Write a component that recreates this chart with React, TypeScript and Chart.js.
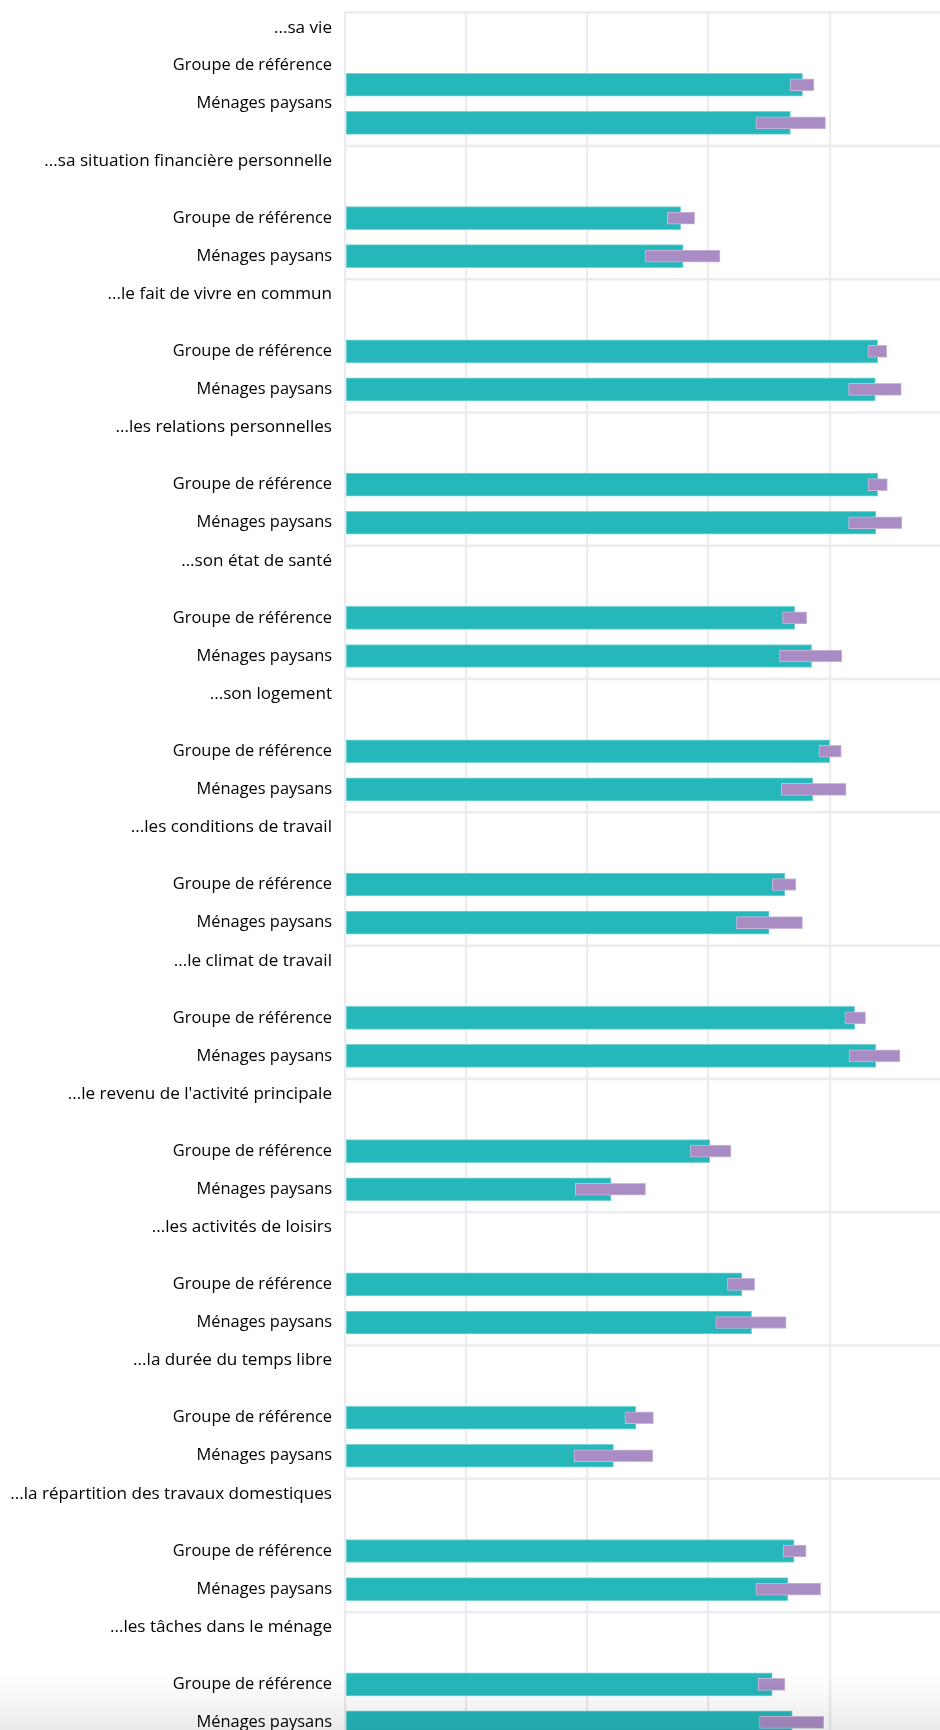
import React, { useEffect, useRef } from "react";
import { Chart, registerables } from "chart.js";

Chart.register(...registerables);

const groups = [
  "...sa vie",
  "...sa situation financière personnelle",
  "...le fait de vivre en commun",
  "...les relations personnelles",
  "...son état de santé",
  "...son logement",
  "...les conditions de travail",
  "...le climat de travail",
  "...le revenu de l'activité principale",
  "...les activités de loisirs",
  "...la durée du temps libre",
  "...la répartition des travaux domestiques",
  "...les tâches dans le ménage",
];

const seriesLabels = ["Groupe de référence", "Ménages paysans"];

const refMean = [7.55, 5.54, 8.79, 8.79, 7.42, 8.0, 7.26, 8.41, 6.02, 6.55, 4.8, 7.41, 7.05];
const refLow = [7.35, 5.32, 8.63, 8.63, 7.22, 7.82, 7.05, 8.25, 5.7, 6.31, 4.62, 7.23, 6.82];
const refHigh = [7.74, 5.77, 8.94, 8.95, 7.62, 8.19, 7.44, 8.59, 6.37, 6.76, 5.09, 7.61, 7.26];

const paysMean = [7.35, 5.58, 8.75, 8.76, 7.7, 7.72, 7.0, 8.76, 4.39, 6.71, 4.43, 7.31, 7.38];
const paysLow = [6.78, 4.95, 8.31, 8.31, 7.17, 7.2, 6.46, 8.32, 3.8, 6.12, 3.78, 6.78, 6.84];
const paysHigh = [7.93, 6.19, 9.18, 9.19, 8.2, 8.27, 7.55, 9.16, 4.96, 7.28, 5.08, 7.85, 7.9];

const xTicks = [0, 2, 4, 6, 8, 10];

const ROWS_PER_GROUP = 7;

export default function App() {
  const canvasRef = useRef<HTMLCanvasElement | null>(null);

  useEffect(() => {
    if (!canvasRef.current) return;

    const rowLabels: string[] = [];
    const totalRows = groups.length * ROWS_PER_GROUP;
    for (let i = 0; i < totalRows; i++) rowLabels.push("");
    groups.forEach((name, g) => {
      const base = g * ROWS_PER_GROUP;
      const shift = g === 0 ? -1 : 0;
      rowLabels[base] = name;
      rowLabels[base + 3 + shift] = seriesLabels[0];
      rowLabels[base + 5 + shift] = seriesLabels[1];
    });

    const meanData: { x: number; y: number }[] = [];
    const ciData: { x: number[]; y: number }[] = [];
    groups.forEach((_, g) => {
      const base = g * ROWS_PER_GROUP;
      meanData.push({ x: refMean[g], y: base + 3 });
      meanData.push({ x: paysMean[g], y: base + 5 });
      ciData.push({ x: [refLow[g], refHigh[g]], y: base + 3 });
      ciData.push({ x: [paysLow[g], paysHigh[g]], y: base + 5 });
    });

    const separatorPlugin = {
      id: "separators",
      beforeDatasetsDraw(chart: any) {
        const { ctx, chartArea, scales } = chart;
        const y = scales.y;
        ctx.save();
        ctx.strokeStyle = "#ececec";
        ctx.lineWidth = 2.5;
        groups.forEach((_, g) => {
          const py = y.getPixelForValue(g * ROWS_PER_GROUP - 0.79);
          ctx.beginPath();
          ctx.moveTo(chartArea.left, py);
          ctx.lineTo(chartArea.right, py);
          ctx.stroke();
        });
        ctx.restore();
      },
    };

    const chart = new Chart(canvasRef.current, {
      type: "bar",
      data: {
        datasets: [
          {
            label: "Intervalle",
            data: ciData as any,
            backgroundColor: "#a88cc3",
            borderColor: "#c9b8dc",
            borderWidth: 1,
            borderSkipped: false,
            barThickness: 12,
            grouped: false,
            order: 0,
          },
          {
            label: "Moyenne",
            data: meanData as any,
            backgroundColor: "#26b7bb",
            borderColor: "#7ad3d5",
            borderWidth: 1,
            borderSkipped: false,
            barThickness: 23,
            grouped: false,
            order: 1,
          },
        ],
      },
      options: {
        indexAxis: "y",
        animation: false,
        responsive: true,
        maintainAspectRatio: false,
        layout: { padding: { top: 12.6, left: 0, right: 0, bottom: 0 } },
        plugins: {
          legend: { display: false },
          tooltip: { enabled: false },
        },
        scales: {
          x: {
            type: "linear",
            min: xTicks[0],
            max: xTicks[xTicks.length - 1],
            afterBuildTicks: (scale: any) => {
              scale.ticks = xTicks.map((v) => ({ value: v }));
            },
            afterFit: (scale: any) => {
              scale.height = 0;
              scale.paddingLeft = 0;
              scale.paddingRight = 0;
            },
            ticks: { display: false },
            grid: { color: "#ececec", lineWidth: 2.2, drawTicks: false },
            border: { display: false },
          },
          y: {
            type: "linear",
            reverse: true,
            offset: false,
            min: -0.79,
            max: 89.4,
            afterBuildTicks: (scale: any) => {
              scale.ticks = rowLabels.map((_, i) => ({ value: i }));
            },
            afterFit: (scale: any) => {
              scale.width = 345;
              scale.paddingTop = 0;
              scale.paddingBottom = 0;
            },
            ticks: {
              autoSkip: false,
              padding: 13,
              color: "#000",
              font: (ctx: any) => ({
                family: "'Open Sans'",
                size: ctx.index % ROWS_PER_GROUP === 0 ? 17.1 : 16.4,
              }),
              callback: (value: any) => {
                const i = Math.round(Number(value));
                return rowLabels[i] ?? "";
              },
            },
            grid: { display: false, offset: false, drawTicks: false },
            border: { display: true, color: "#ececec", width: 2.2 },
          },
        },
      },
      plugins: [separatorPlugin],
    });

    return () => chart.destroy();
  }, []);

  return (
    <div
      style={{
        position: "absolute",
        left: 0,
        top: 0,
        width: 940,
        height: 1730,
        overflow: "hidden",
        background: "#fff",
      }}
    >
      <div style={{ position: "absolute", left: 0, top: 0, width: 951, height: 1730 }}>
        <canvas ref={canvasRef} />
      </div>
      <div
        style={{
          position: "absolute",
          left: 0,
          right: 0,
          bottom: 0,
          height: 55,
          pointerEvents: "none",
          background: "linear-gradient(to bottom, rgba(0,0,0,0), rgba(0,0,0,0.08))",
        }}
      />
    </div>
  );
}
